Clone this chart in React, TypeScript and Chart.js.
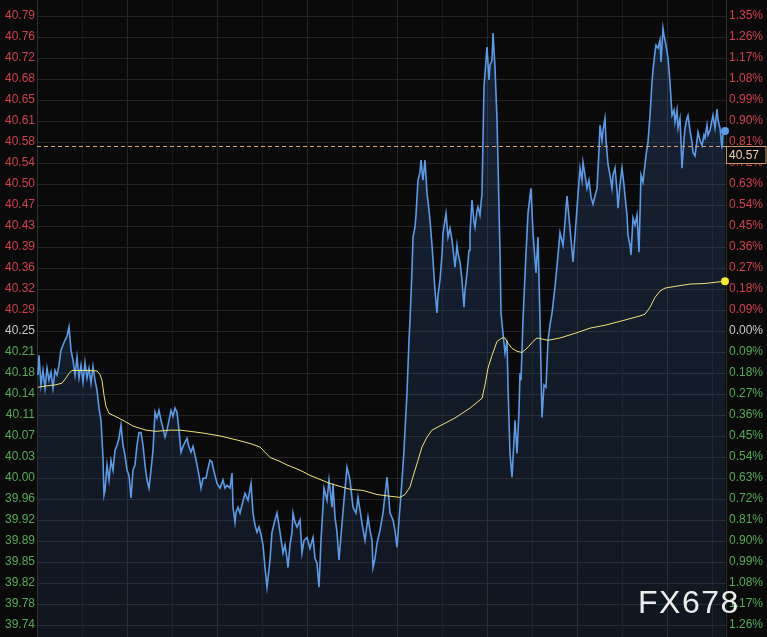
import React, { useEffect, useRef } from 'react';
import { Chart, registerables } from 'chart.js';

Chart.register(...registerables);

// ---------- data ----------
const BASE_PRICE = 40.25;          // previous close (0.00%)
const CURRENT_PRICE = 40.57;       // dashed price line
const WATERMARK = 'FX678';
const Y_MIN = 39.7222;
const Y_MAX = 40.821;
const X_MAX = 689;

// percent steps for the tick ladder (left shows price, right shows |%|)
const tickPercents = [
  1.35, 1.26, 1.17, 1.08, 0.99, 0.9, 0.81, 0.72, 0.63, 0.54, 0.45, 0.36, 0.27, 0.18, 0.09, 0,
  -0.09, -0.18, -0.27, -0.36, -0.45, -0.54, -0.63, -0.72, -0.81, -0.9, -0.99, -1.08, -1.17, -1.26,
];

// vertical time grid (time index)
const timeGrid = [0, 45, 90, 135, 180, 225, 270, 315, 360, 405, 450, 495, 540, 585, 630, 675];

// price series: time index and price
const priceTimes = [
  1, 2, 4, 6, 8, 10, 12, 14, 16, 18, 20, 22, 24, 26, 28, 30, 32, 34, 36, 38,
  40, 42, 44, 46, 48, 50, 52, 54, 56, 58, 60, 62, 64, 66, 67, 68, 70, 72, 74, 76,
  78, 80, 82, 84, 86, 88, 90, 92, 94, 96, 98, 100, 102, 104, 106, 108, 110, 112, 114, 116,
  118, 120, 122, 124, 126, 128, 130, 132, 134, 136, 138, 140, 142, 144, 146, 148, 150, 152, 154, 156,
  158, 160, 162, 164, 166, 169, 171, 173, 175, 176, 178, 180, 183, 186, 188, 190, 193, 195, 196, 198,
  199, 201, 203, 205, 208, 211, 214, 216, 218, 220, 222, 224, 226, 228, 230, 233, 235, 238, 240, 243,
  246, 248, 250, 251, 253, 255, 256, 258, 260, 263, 265, 267, 270, 273, 276, 278, 280, 282, 284, 285,
  287, 290, 292, 295, 296, 298, 300, 302, 305, 307, 310, 313, 316, 319, 321, 323, 325, 328, 331, 333,
  335, 336, 338, 340, 343, 346, 348, 350, 352, 353, 356, 358, 360, 362, 363, 365, 367, 368, 370, 372,
  373, 375, 376, 378, 379, 381, 383, 384, 386, 388, 390, 392, 393, 395, 396, 398, 400, 401, 403, 405,
  406, 409, 411, 413, 415, 417, 418, 420, 421, 423, 425, 427, 428, 430, 432, 433, 435, 437, 438, 440,
  441, 443, 445, 446, 447, 449, 450, 452, 453, 455, 456, 458, 460, 461, 463, 464, 466, 468, 470, 471,
  473, 475, 477, 478, 480, 482, 483, 484, 486, 489, 491, 493, 494, 496, 498, 499, 501, 503, 505, 507,
  509, 511, 513, 515, 518, 521, 523, 526, 528, 530, 533, 536, 538, 540, 543, 545, 546, 548, 550, 552,
  554, 556, 558, 560, 562, 563, 565, 566, 568, 569, 571, 573, 575, 576, 578, 580, 581, 583, 585, 587,
  588, 590, 591, 593, 594, 596, 598, 600, 602, 604, 606, 609, 611, 613, 615, 616, 618, 619, 621, 623,
  624, 625, 626, 627, 629, 631, 633, 635, 637, 638, 640, 641, 643, 644, 645, 647, 648, 650, 651, 653,
  655, 656, 658, 660, 661, 663, 665, 667, 668, 670, 671, 673, 675, 676, 678, 680, 681, 683, 685, 686,
  688,
];
const prices = [
  40.174, 40.208, 40.157, 40.182, 40.151, 40.186, 40.165, 40.179, 40.151, 40.182, 40.174, 40.191, 40.217, 40.226, 40.234, 40.241, 40.257, 40.217, 40.200, 40.174,
  40.205, 40.169, 40.191, 40.162, 40.196, 40.169, 40.186, 40.160, 40.189, 40.165, 40.148, 40.117, 40.096, 40.031, 39.967, 39.975, 40.019, 39.993, 40.027, 40.010,
  40.044, 40.053, 40.065, 40.088, 40.053, 40.036, 40.010, 40.001, 39.962, 40.010, 40.019, 40.053, 40.075, 40.075, 40.053, 40.019, 39.993, 39.979, 40.010, 40.044,
  40.110, 40.100, 40.113, 40.096, 40.082, 40.067, 40.079, 40.096, 40.113, 40.103, 40.117, 40.110, 40.079, 40.041, 40.051, 40.058, 40.065, 40.050, 40.041, 40.051,
  40.036, 40.019, 40.001, 39.979, 39.996, 39.996, 40.013, 40.027, 40.024, 40.015, 40.001, 39.987, 39.979, 39.993, 39.979, 39.984, 39.979, 40.005, 39.946, 39.920,
  39.937, 39.946, 39.936, 39.950, 39.970, 39.958, 39.987, 39.936, 39.915, 39.903, 39.912, 39.899, 39.881, 39.842, 39.808, 39.855, 39.903, 39.924, 39.936, 39.903,
  39.867, 39.881, 39.858, 39.842, 39.881, 39.903, 39.936, 39.920, 39.912, 39.924, 39.867, 39.889, 39.894, 39.875, 39.894, 39.858, 39.849, 39.808, 39.889, 39.918,
  39.979, 39.958, 39.993, 39.946, 39.987, 39.929, 39.903, 39.855, 39.918, 39.958, 40.015, 39.993, 39.946, 39.936, 39.963, 39.941, 39.918, 39.889, 39.929, 39.906,
  39.889, 39.842, 39.858, 39.884, 39.906, 39.936, 39.967, 39.998, 39.958, 39.936, 39.924, 39.906, 39.877, 39.924, 39.946, 39.993, 40.044, 40.079, 40.143, 40.234,
  40.269, 40.355, 40.412, 40.429, 40.450, 40.510, 40.524, 40.545, 40.510, 40.545, 40.488, 40.458, 40.441, 40.398, 40.372, 40.320, 40.281, 40.312, 40.338, 40.381,
  40.419, 40.453, 40.412, 40.427, 40.407, 40.376, 40.360, 40.398, 40.384, 40.369, 40.338, 40.291, 40.320, 40.350, 40.389, 40.419, 40.476, 40.438, 40.429, 40.458,
  40.464, 40.450, 40.488, 40.579, 40.671, 40.717, 40.740, 40.683, 40.709, 40.717, 40.764, 40.705, 40.614, 40.540, 40.384, 40.281, 40.246, 40.212, 40.234, 40.153,
  40.039, 39.998, 40.062, 40.096, 40.039, 40.113, 40.177, 40.165, 40.269, 40.384, 40.453, 40.483, 40.496, 40.419, 40.372, 40.350, 40.412, 40.269, 40.101, 40.157,
  40.153, 40.234, 40.260, 40.281, 40.326, 40.381, 40.420, 40.398, 40.438, 40.483, 40.427, 40.369, 40.415, 40.462, 40.531, 40.510, 40.541, 40.519, 40.496, 40.510,
  40.481, 40.469, 40.483, 40.496, 40.562, 40.605, 40.579, 40.596, 40.617, 40.579, 40.538, 40.519, 40.496, 40.519, 40.531, 40.493, 40.462, 40.502, 40.531, 40.502,
  40.483, 40.450, 40.415, 40.398, 40.381, 40.445, 40.433, 40.450, 40.386, 40.519, 40.507, 40.553, 40.576, 40.622, 40.679, 40.700, 40.731, 40.743, 40.738, 40.752,
  40.714, 40.743, 40.772, 40.760, 40.743, 40.721, 40.679, 40.622, 40.631, 40.610, 40.631, 40.600, 40.617, 40.576, 40.531, 40.579, 40.600, 40.617, 40.622, 40.596,
  40.576, 40.558, 40.552, 40.579, 40.593, 40.579, 40.570, 40.588, 40.583, 40.605, 40.588, 40.596, 40.614, 40.622, 40.600, 40.633, 40.614, 40.600, 40.565, 40.593,
  40.595,
];

// average price series
const avgTimes = [
  1, 8, 18, 25, 29, 32, 35, 43, 53, 60, 63, 65, 67, 69, 72, 78, 86, 96, 109, 119,
  133, 143, 153, 166, 183, 200, 213, 223, 228, 233, 243, 250, 263, 273, 283, 293, 303, 313, 326, 340,
  353, 363, 368, 373, 375, 381, 385, 390, 395, 408, 418, 425, 433, 445, 448, 451, 455, 460, 465, 468,
  471, 475, 480, 485, 491, 496, 500, 511, 523, 538, 553, 568, 588, 603, 608, 613, 618, 623, 628, 638,
  653, 668, 688,
];
const avgPrices = [
  40.153, 40.155, 40.157, 40.160, 40.169, 40.177, 40.182, 40.182, 40.182, 40.181, 40.175, 40.165, 40.139, 40.120, 40.108, 40.103, 40.096, 40.086, 40.079, 40.077,
  40.079, 40.079, 40.077, 40.074, 40.069, 40.062, 40.056, 40.050, 40.041, 40.032, 40.025, 40.019, 40.010, 40.001, 39.994, 39.987, 39.982, 39.977, 39.975, 39.968,
  39.965, 39.963, 39.968, 39.981, 39.993, 40.027, 40.050, 40.067, 40.079, 40.091, 40.100, 40.108, 40.117, 40.134, 40.157, 40.186, 40.208, 40.232, 40.238, 40.238,
  40.229, 40.220, 40.215, 40.213, 40.222, 40.232, 40.238, 40.234, 40.238, 40.246, 40.255, 40.260, 40.269, 40.276, 40.279, 40.291, 40.308, 40.319, 40.324, 40.327,
  40.331, 40.332, 40.336,
];

// ---------- styles ----------
const BG = '#0a0a0a';
const RED = '#d0404a';
const GREEN = '#58a85a';
const ZERO = '#c8c8c8';
const FONT = '"Liberation Sans", Arial, sans-serif';

const tickValues = tickPercents.map((p) => BASE_PRICE * (1 + p / 100));
const tickColor = (v: number) =>
  Math.abs(v - BASE_PRICE) < 0.001 ? ZERO : v > BASE_PRICE ? RED : GREEN;

export default function App() {
  const ref = useRef<HTMLCanvasElement | null>(null);

  useEffect(() => {
    document.body.style.margin = '0';
    document.body.style.background = BG;
    const canvas = ref.current;
    if (!canvas) return;

    const overlay = {
      id: 'overlay',
      beforeDraw(chart: any) {
        const { ctx, width, height } = chart;
        ctx.save();
        ctx.fillStyle = BG;
        ctx.fillRect(0, 0, width, height);
        ctx.restore();
      },
      afterDatasetsDraw(chart: any) {
        const { ctx, chartArea } = chart;
        const y = Math.round(chart.scales.y.getPixelForValue(CURRENT_PRICE)) + 0.5;
        ctx.save();
        ctx.strokeStyle = '#d9a070';
        ctx.lineWidth = 1;
        ctx.setLineDash([4, 3]);
        ctx.beginPath();
        ctx.moveTo(chartArea.left, y);
        ctx.lineTo(chartArea.right, y);
        ctx.stroke();
        ctx.restore();
      },
      afterDraw(chart: any) {
        const { ctx, chartArea, width } = chart;
        const y = Math.round(chart.scales.y.getPixelForValue(CURRENT_PRICE)) + 0.5;
        ctx.save();
        ctx.fillStyle = BG;
        ctx.fillRect(chartArea.right + 0.5, y, width - chartArea.right - 1.5, 17);
        ctx.strokeStyle = '#c8986a';
        ctx.lineWidth = 1;
        ctx.strokeRect(chartArea.right + 0.5, y, width - chartArea.right - 1.5, 17);
        ctx.fillStyle = '#f0d0a8';
        ctx.font = `12px ${FONT}`;
        ctx.textBaseline = 'middle';
        ctx.textAlign = 'left';
        ctx.fillText(CURRENT_PRICE.toFixed(2), chartArea.right + 3, y + 9);
        // watermark
        ctx.fillStyle = '#ececec';
        ctx.font = `32px ${FONT}`;
        ctx.textBaseline = 'alphabetic';
        (ctx as any).letterSpacing = '1.5px';
        ctx.fillText(WATERMARK, 638, 613);
        ctx.restore();
      },
    };

    const chart = new Chart(canvas, {
      type: 'line',
      data: {
        datasets: [
          {
            label: 'avg',
            data: avgTimes.map((t, i) => ({ x: t, y: avgPrices[i] })),
            borderColor: '#ece27a',
            borderWidth: 1,
            fill: false,
            tension: 0,
            clip: false as any,
            pointRadius: (c: any) => (c.dataIndex === avgPrices.length - 1 ? 4 : 0),
            pointBackgroundColor: '#f7ea2a',
            pointBorderWidth: 0,
          },
          {
            label: 'price',
            data: priceTimes.map((t, i) => ({ x: t, y: prices[i] })),
            borderColor: '#5b9ae6',
            borderWidth: 1.6,
            tension: 0,
            clip: false as any,
            fill: 'start',
            backgroundColor: (c: any) => {
              const area = c.chart.chartArea;
              if (!area) return 'rgba(55,100,170,0.2)';
              const g = c.chart.ctx.createLinearGradient(0, area.top, 0, area.bottom);
              g.addColorStop(0, 'rgba(60,105,175,0.26)');
              g.addColorStop(1, 'rgba(50,90,150,0.16)');
              return g;
            },
            pointRadius: (c: any) => (c.dataIndex === prices.length - 1 ? 4 : 0),
            pointBackgroundColor: '#5b9ce8',
            pointBorderWidth: 0,
          },
        ],
      },
      options: {
        animation: false,
        responsive: false,
        devicePixelRatio: 1,
        layout: { padding: 0, autoPadding: false },
        plugins: { legend: { display: false }, tooltip: { enabled: false } },
        events: [],
        scales: {
          x: {
            type: 'linear',
            min: 0,
            max: X_MAX,
            afterBuildTicks: (s: any) => {
              s.ticks = timeGrid.map((v) => ({ value: v }));
            },
            afterFit: (s: any) => {
              s.height = 0;
              s.paddingLeft = 0;
              s.paddingRight = 0;
            },
            ticks: { display: false },
            grid: {
              drawTicks: false,
              color: (c: any) => (c.tick && c.tick.value % 90 === 0 ? '#262626' : '#181818'),
            },
            border: { display: false },
          },
          y: {
            position: 'left',
            min: Y_MIN,
            max: Y_MAX,
            afterBuildTicks: (s: any) => {
              s.ticks = tickValues.map((v) => ({ value: v }));
            },
            afterFit: (s: any) => {
              s.width = 37;
              s.paddingTop = 0;
              s.paddingBottom = 0;
            },
            ticks: {
              padding: 2,
              font: { size: 12, family: FONT },
              color: (c: any) => tickColor(c.tick.value),
              callback: (v: any) => Number(v).toFixed(2),
            },
            grid: { drawTicks: false, color: '#242424' },
            border: { color: '#303030' },
          },
          y2: {
            position: 'right',
            min: Y_MIN,
            max: Y_MAX,
            afterBuildTicks: (s: any) => {
              s.ticks = tickValues.map((v) => ({ value: v }));
            },
            afterFit: (s: any) => {
              s.width = 41;
              s.paddingTop = 0;
              s.paddingBottom = 0;
            },
            ticks: {
              padding: 3,
              font: { size: 12, family: FONT },
              color: (c: any) => tickColor(c.tick.value),
              callback: (v: any) => Math.abs((Number(v) / BASE_PRICE - 1) * 100).toFixed(2) + '%',
            },
            grid: { display: false, drawTicks: false },
            border: { color: '#303030' },
          },
        },
      } as any,
      plugins: [overlay],
    });

    return () => chart.destroy();
  }, []);

  return (
    <div style={{ position: 'fixed', left: 0, top: 0, width: 767, height: 637, background: BG }}>
      <canvas ref={ref} width={767} height={637} style={{ display: 'block' }} />
    </div>
  );
}
